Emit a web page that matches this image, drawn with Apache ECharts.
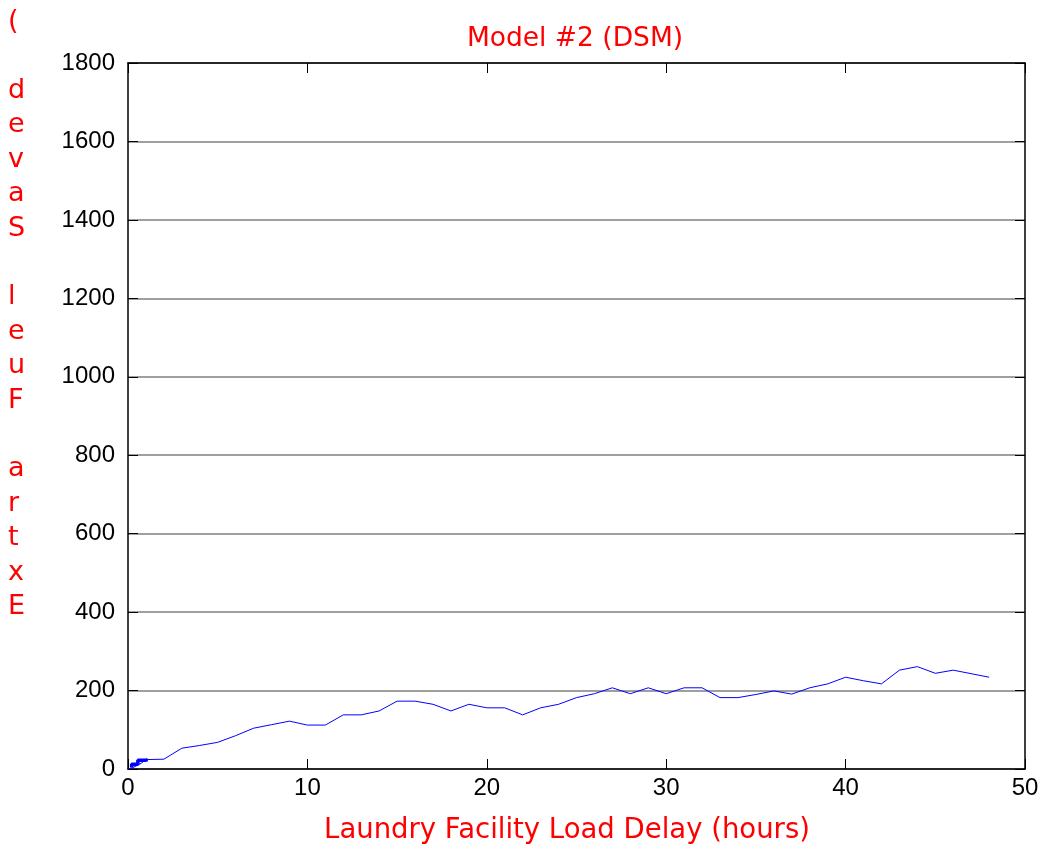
<!DOCTYPE html>
<html lang="en">
<head>
    <meta charset="UTF-8">
    <title>Model #2 (DSM)</title>
    <style>
        html, body { margin: 0; padding: 0; background: #fff; }
    </style>
</head>
<body>
<div id="main" style="width: 1043px;height:853px;"></div>
<script src="https://cdn.jsdelivr.net/npm/echarts@6/dist/echarts.min.js"></script>
<script>
    // data
    var hours = [0, 0.25, 0.5, 0.75, 1, 2, 3, 4, 5, 6, 7, 8, 9, 10, 11, 12, 13, 14, 15, 16, 17,
        18, 19, 20, 21, 22, 23, 24, 25, 26, 27, 28, 29, 30, 31, 32, 33, 34, 35, 36, 37,
        38, 39, 40, 41, 42, 43, 44, 45, 46, 47, 48];
    var fuelSaved = [0, 3, 9, 15, 24, 25, 53, 60, 68, 85, 104, 113, 122, 112, 112, 138, 138, 148, 173, 173, 165,
        148, 165, 156, 156, 138, 156, 165, 182, 192, 207, 192, 207, 192, 207, 207, 182, 182, 190, 199, 191,
        207, 217, 234, 225, 217, 252, 261, 244, 252, 243, 234];
    // the heavy staircase right at the origin
    var startHours = [0.2, 0.55, 0.95, 1.1];
    var startFuel = [4, 12, 22, 24];
    var xTicks = [0, 10, 20, 30, 40, 50];
    var yTicks = [0, 200, 400, 600, 800, 1000, 1200, 1400, 1600, 1800];
    var titleText = 'Model #2 (DSM)';
    var xName = 'Laundry Facility Load Delay (hours)';
    var yName = 'Extra Fuel Saved (';

    var chart = echarts.init(document.getElementById('main'));

    var points = hours.map(function (h, i) { return [h, fuelSaved[i]]; });
    var startPoints = startHours.map(function (h, i) { return [h, startFuel[i]]; });
    // the y label shows up as reversed, stacked characters
    var stacked = yName.split('').reverse().join('\n');

    var labelFont = { color: '#000', fontFamily: '"Liberation Sans", Arial, sans-serif', fontSize: 24 };
    var frameLine = { show: true, onZero: false, lineStyle: { color: '#000', width: 1.5 } };
    var tickIn = { show: true, inside: true, length: 10, lineStyle: { color: '#000', width: 1 } };

    option = {
        animation: false,
        backgroundColor: '#fff',
        title: {
            text: titleText,
            left: 570,
            textAlign: 'center',
            top: 21,
            textStyle: { color: '#ff0000', fontFamily: 'DejaVu Sans', fontWeight: 'normal', fontSize: 26.5 }
        },
        grid: { left: 128, right: 18, top: 63, bottom: 84 },
        graphic: [{
            type: 'text',
            left: 8,
            top: 5,
            style: {
                text: stacked,
                fill: '#ff0000',
                font: '27px "DejaVu Sans"',
                lineHeight: 34.4,
                align: 'center'
            }
        }, {
            type: 'text',
            x: 567,
            y: 831,
            style: {
                text: xName,
                fill: '#ff0000',
                font: '27.5px "DejaVu Sans"',
                align: 'center',
                verticalAlign: 'middle'
            }
        }],
        xAxis: [{
            type: 'value',
            min: 0, max: 50, interval: 10,
            axisLine: frameLine,
            axisTick: tickIn,
            axisLabel: Object.assign({ margin: 7, formatter: function (v) { return xTicks.indexOf(v) >= 0 ? v : ''; } }, labelFont),
            splitLine: { show: false }
        }, {
            type: 'value', position: 'top',
            min: 0, max: 50, interval: 10,
            axisLine: frameLine, axisTick: tickIn,
            axisLabel: { show: false }, splitLine: { show: false }
        }],
        yAxis: [{
            type: 'value',
            min: 0, max: 1800, interval: 200,
            axisLine: frameLine,
            axisTick: tickIn,
            axisLabel: Object.assign({ margin: 13, formatter: function (v) { return yTicks.indexOf(v) >= 0 ? v : ''; } }, labelFont),
            splitLine: { show: true, lineStyle: { color: '#7f7f7f', width: 1.5 } }
        }, {
            type: 'value', position: 'right',
            min: 0, max: 1800, interval: 200,
            axisLine: frameLine, axisTick: tickIn,
            axisLabel: { show: false }, splitLine: { show: false }
        }],
        series: [{
            type: 'line',
            data: points,
            showSymbol: false,
            lineStyle: { color: '#0000ff', width: 1 },
            z: 5
        }, {
            type: 'line',
            data: startPoints,
            step: 'start',
            showSymbol: false,
            lineStyle: { color: '#0000ff', width: 3.5 },
            z: 6
        }]
    };

    chart.setOption(option);
</script>
</body>
</html>
